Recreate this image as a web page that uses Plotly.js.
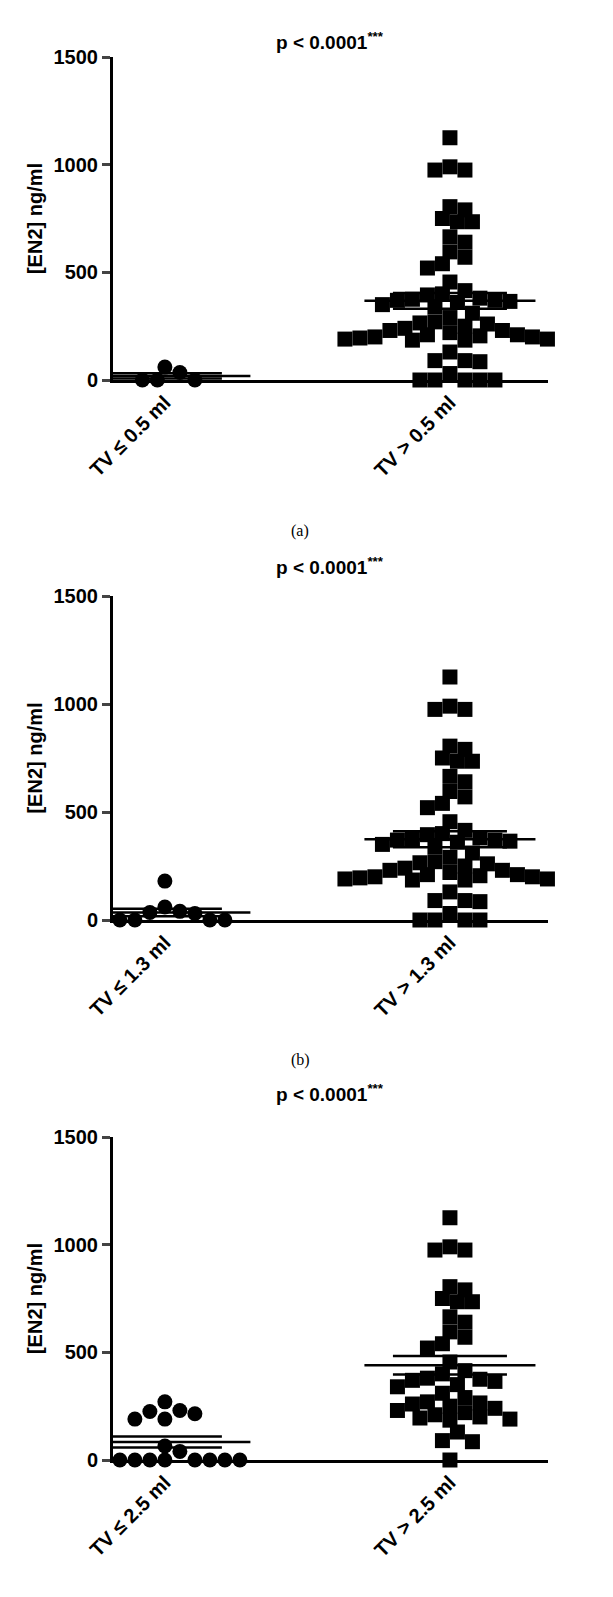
<!DOCTYPE html>
<html><head><meta charset="utf-8">
<script src="https://cdn.plot.ly/plotly-3.0.1.min.js"></script>
<style>body{margin:0;background:#fff}#myDiv{width:613px;height:1597px}</style>
</head><body><div id="myDiv"></div>
<script>
// group labels per panel
let lowLabels = ['TV ≤ 0.5 ml', 'TV ≤ 1.3 ml', 'TV ≤ 2.5 ml'];
let highLabels = ['TV > 0.5 ml', 'TV > 1.3 ml', 'TV > 2.5 ml'];
let panelTags = ['(a)', '(b)', ''];

// EN2 values (ng/ml)
let lowA = [60, 35, 0, 0, 0];
let highA = [1125,990,975,975,805,790,750,735,735,665,640,595,570,540,520,455,415,400,395,380,375,370,370,365,360,350,340,310,290,270,265,260,250,240,230,220,210,205,200,195,190,185,185,190,200,210,230,130,90,90,85,30,0,0,0,0,0];
let lowB = [180, 60, 40, 35, 30, 0, 0, 0, 0, 0];
let highB = [1125,990,975,975,805,790,750,735,735,665,640,595,570,540,520,455,415,400,395,380,375,370,370,365,360,350,340,310,290,270,265,260,250,240,230,220,210,205,200,195,190,185,185,190,200,210,230,130,90,90,85,30,0,0,0,0];
let lowC = [270, 225, 215, 190, 190, 230, 65, 40, 0, 0, 0, 0, 0, 0, 0, 0, 0];
let highC = [1125,990,975,975,805,790,750,735,735,665,640,595,570,540,520,455,415,400,380,375,370,365,350,340,310,290,270,265,260,250,240,230,220,210,200,195,190,185,130,90,85,0];

let lows = [lowA, lowB, lowC];
let highs = [highA, highB, highC];

// pixel boxes of the three plots [top, bottom]
let boxes = [[57, 380], [596, 920], [1137, 1460]];
let H = 1597, W = 613;
let xl = 113, xr = 548;
let xrange = [-0.182, 1.344];
let font = {family: 'Liberation Sans, Arial, sans-serif', color: '#000', weight: 'bold'};

// simple beeswarm offsets in x units
function swarm(vals, pxPerY, pxPerX, size) {
  let placed = [];
  let order = vals.map((v, i) => i).sort((a, b) => vals[b] - vals[a]);
  let out = new Array(vals.length);
  order.forEach(i => {
    let y = vals[i] * pxPerY;
    let cands = [0];
    for (let k = 1; k < 30; k++) { cands.push(k * size / 2, -k * size / 2); }
    for (let c of cands) {
      if (placed.every(p => Math.hypot(p[0] - c, p[1] - y) >= size * 0.9)) {
        placed.push([c, y]); out[i] = c / pxPerX; break;
      }
    }
  });
  return out;
}
function stats(v) {
  let m = v.reduce((a, b) => a + b, 0) / v.length;
  let sd = Math.sqrt(v.reduce((a, b) => a + (b - m) ** 2, 0) / (v.length - 1));
  return [m, sd / Math.sqrt(v.length)];
}

let traces = [];
let layout = {width: W, height: H, margin: {l: 0, r: 0, t: 0, b: 0}, showlegend: false,
  paper_bgcolor: '#fff', plot_bgcolor: '#fff', annotations: []};

for (let p = 0; p < 3; p++) {
  let ax = p === 0 ? '' : String(p + 1);
  let [top, bot] = boxes[p];
  let pxPerY = (bot - top) / 1500, pxPerX = (xr - xl) / (xrange[1] - xrange[0]);
  [[lows[p], 0, 'circle'], [highs[p], 1, 'square']].forEach(([vals, cx, sym]) => {
    let offs = swarm(vals, pxPerY, pxPerX, 15);
    traces.push({x: offs.map(o => cx + o), y: vals, mode: 'markers', type: 'scatter',
      xaxis: 'x' + ax, yaxis: 'y' + ax, cliponaxis: false,
      marker: {symbol: sym, size: 15, color: '#000'}});
    let [m, se] = stats(vals);
    [[m, 0.3], [m + se, 0.2], [m - se, 0.2]].forEach(([yv, hw]) => {
      traces.push({x: [cx - hw, cx + hw], y: [yv, yv], mode: 'lines', type: 'scatter',
        xaxis: 'x' + ax, yaxis: 'y' + ax, cliponaxis: false, line: {color: '#000', width: 2.5}});
    });
  });
  layout['xaxis' + ax] = {domain: [xl / W, xr / W], range: xrange, anchor: 'y' + ax,
    tickvals: [0, 1], ticktext: [lowLabels[p], highLabels[p]], tickangle: -45,
    ticks: 'outside', ticklen: 0, tickwidth: 2.5, showline: true, linewidth: 3, linecolor: '#000',
    showgrid: false, zeroline: false, tickfont: Object.assign({size: 20}, font)};
  layout['yaxis' + ax] = {domain: [1 - bot / H, 1 - top / H], range: [0, 1500], anchor: 'x' + ax,
    tickvals: [0, 500, 1000, 1500], ticks: 'outside', ticklen: 8, tickwidth: 3,
    showline: true, linewidth: 3, linecolor: '#000', showgrid: false, zeroline: false,
    tickfont: Object.assign({size: 20}, font),
    title: {text: '[EN2] ng/ml', standoff: 6, font: Object.assign({size: 20}, font)}};
  layout.annotations.push({xref: 'paper', yref: 'paper', x: 330 / W, y: 1 - (top - 30) / H,
    text: '<b>p < 0.0001</b><sup>***</sup>', showarrow: false, font: Object.assign({size: 19}, font)});
  if (panelTags[p]) {
    layout.annotations.push({xref: 'paper', yref: 'paper', x: 300 / W, y: 1 - (bot + 140) / H,
      text: panelTags[p], showarrow: false, font: {family: 'Liberation Serif, serif', size: 16, color: '#000'}});
  }
}

Plotly.newPlot('myDiv', traces, layout, {staticPlot: true});
</script></body></html>
